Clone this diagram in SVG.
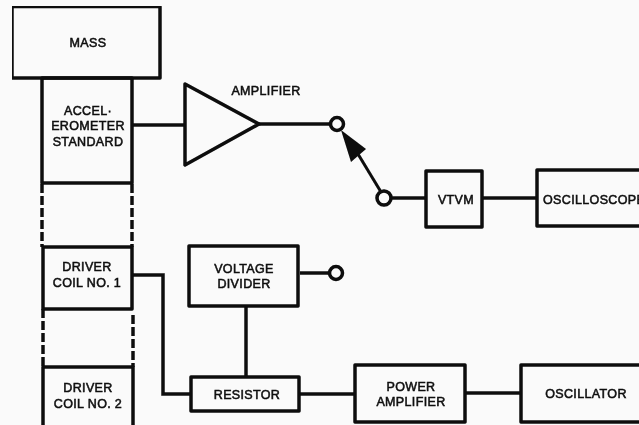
<svg xmlns="http://www.w3.org/2000/svg" width="639" height="425" viewBox="0 0 639 425">
<style>
.b{fill:none;stroke:#0a0a0a;stroke-width:3.5;stroke-linejoin:round}
.c{fill:none;stroke:#0a0a0a;stroke-width:3.5}
.d{fill:none;stroke:#0a0a0a;stroke-width:3.5;stroke-dasharray:9 3}
.o{fill:#fafafa;stroke:#0a0a0a;stroke-width:3.5}
text{font-family:"Liberation Sans",Arial,sans-serif;font-size:12.5px;font-weight:normal;fill:#111;stroke:#111;stroke-width:.55px;text-anchor:middle;letter-spacing:.35px}
</style>
<defs><filter id="soft" x="0" y="0" width="100%" height="100%"><feGaussianBlur stdDeviation="0.45"/></filter></defs>
<rect width="639" height="425" fill="#fafafa"/>
<g filter="url(#soft)">
<g id="connectors">
<path class="c" d="M133 125H185"/>
<path class="c" d="M259 124H331"/>
<path class="c" d="M391 198H426"/>
<path class="c" d="M482 198H537"/>
<path class="c" d="M133 275H163V394H191"/>
<path class="c" d="M300 273H330"/>
<path class="c" d="M246 306V377"/>
<path class="c" d="M300 394H355"/>
<path class="c" d="M466 393H521"/>
<path class="d" d="M42 184V247"/>
<path class="d" d="M132 184V247"/>
<path class="d" d="M43 309V367"/>
<path class="d" d="M133 315V367"/>
<path class="c" style="stroke-width:3" d="M381 192L358 154"/>
<path fill="#0a0a0a" d="M341 130L366 149L351 162Z"/>
</g>
<g id="mass"><rect class="b" x="12" y="6.500" width="148" height="71.500"/><text x="88" y="47">MASS</text></g>
<g id="accelerometer"><rect class="b" x="42" y="78" width="90" height="105"/><text x="88" y="114.500">ACCEL·</text><text x="88" y="130">EROMETER</text><text x="88" y="145.500">STANDARD</text></g>
<g id="amplifier"><path class="b" d="M185 84L259 124L185 165Z"/><text x="266" y="95">AMPLIFIER</text></g>
<g id="switch-top"><circle class="o" cx="337" cy="124" r="6.500"/></g>
<g id="switch-bottom"><circle class="o" cx="384" cy="198" r="7"/></g>
<g id="vtvm"><rect class="b" x="426" y="171" width="56" height="56"/><text x="456" y="204">VTVM</text></g>
<g id="oscilloscope"><rect class="b" x="537" y="170" width="104" height="56"/><text x="543" y="204" style="text-anchor:start">OSCILLOSCOPE</text></g>
<g id="driver-coil-1"><rect class="b" x="43" y="247" width="89" height="62"/><text x="87" y="271">DRIVER</text><text x="87" y="287">COIL NO. 1</text></g>
<g id="driver-coil-2"><rect class="b" x="43" y="367" width="90" height="60"/><text x="88" y="392">DRIVER</text><text x="88" y="408">COIL NO. 2</text></g>
<g id="voltage-divider"><rect class="b" x="189" y="246" width="109" height="60"/><text x="244" y="273">VOLTAGE</text><text x="244" y="288">DIVIDER</text></g>
<g id="voltage-terminal"><circle class="o" cx="336" cy="273" r="6.500"/></g>
<g id="resistor"><rect class="b" x="191" y="377" width="108" height="34"/><text x="247" y="399">RESISTOR</text></g>
<g id="power-amplifier"><rect class="b" x="355" y="365" width="110" height="57"/><text x="411" y="391">POWER</text><text x="411" y="406">AMPLIFIER</text></g>
<g id="oscillator"><rect class="b" x="521" y="365" width="120" height="57"/><text x="586" y="398">OSCILLATOR</text></g>
</g>
</svg>
